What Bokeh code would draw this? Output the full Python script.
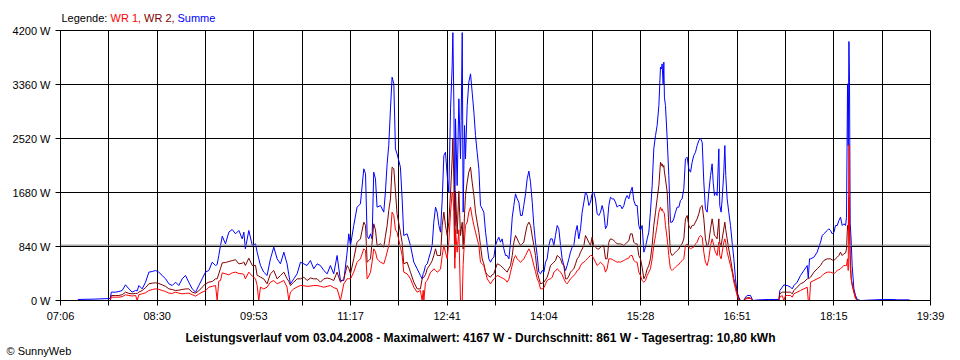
from bokeh.plotting import figure
from bokeh.layouts import column
from bokeh.models import Range1d, FixedTicker, CustomJSTickFormatter, Span, Title
from bokeh.core.properties import value
from bokeh.embed import file_html
from bokeh.resources import INLINE

# ---- data (minutes after midnight, watts) ----
TIME_MIN = [
    441.0, 455.0, 469.0, 470.0, 473.6, 476.5, 479.4, 482.3, 485.2, 488.0, 491.0, 492.4, 493.8, 496.7, 499.6,
    502.5, 505.4, 508.2, 511.0, 514.0, 517.0, 519.8, 522.7, 525.6, 528.4, 531.3, 534.2, 537.0, 540.0, 542.9,
    545.7, 548.6, 551.5, 554.4, 557.3, 560.2, 561.6, 563.0, 564.5, 566.0, 568.8, 571.7, 574.6, 577.5, 580.4,
    583.3, 584.7, 586.0, 589.0, 592.0, 594.8, 596.2, 597.6, 599.1, 601.9, 604.8, 607.7, 610.6, 613.5, 616.4,
    619.3, 622.1, 623.6, 625.0, 627.9, 630.8, 633.7, 636.6, 639.4, 642.3, 645.2, 648.1, 651.0, 653.9, 656.8,
    659.6, 662.5, 665.4, 668.3, 671.2, 674.1, 675.5, 677.0, 679.8, 682.7, 685.6, 688.5, 690.0, 691.4, 692.8,
    694.3, 695.7, 697.1, 698.6, 700.0, 702.9, 705.8, 707.2, 708.7, 710.1, 711.6, 713.0, 714.5, 715.9, 717.3,
    720.2, 721.7, 723.1, 726.0, 728.9, 731.8, 734.7, 737.5, 739.0, 739.9, 740.5, 741.9, 743.4, 746.3, 747.7,
    749.1, 750.6, 752.0, 753.5, 754.9, 756.4, 757.8, 759.2, 760.7, 762.1, 763.6, 765.0, 765.6, 766.5, 767.3,
    767.9, 769.3, 770.8, 772.2, 772.8, 773.7, 774.5, 775.7, 776.5, 778.0, 779.4, 780.9, 782.3, 783.8, 785.2,
    786.6, 788.1, 789.5, 791.0, 792.4, 793.9, 795.3, 796.7, 798.2, 799.6, 801.1, 802.5, 804.0, 805.4, 806.8,
    808.3, 809.7, 811.2, 812.6, 814.1, 815.5, 817.0, 818.4, 819.8, 821.3, 822.7, 824.2, 825.6, 827.0, 828.5,
    829.9, 831.4, 832.8, 834.3, 835.7, 837.1, 838.6, 840.0, 841.5, 842.9, 844.4, 845.8, 847.2, 848.7, 850.1,
    851.6, 853.0, 854.4, 855.9, 857.3, 858.8, 860.2, 861.7, 863.1, 864.5, 866.0, 867.4, 868.9, 870.3, 871.8,
    873.2, 874.6, 876.1, 877.5, 879.0, 880.4, 881.9, 883.3, 884.7, 886.1, 887.6, 889.0, 890.5, 891.9, 893.4,
    894.8, 896.2, 897.7, 899.1, 900.6, 902.0, 903.5, 904.9, 906.3, 907.8, 909.2, 910.7, 912.1, 913.6, 915.0,
    916.4, 917.9, 919.3, 920.8, 922.2, 923.7, 925.1, 926.5, 928.0, 929.4, 930.9, 932.3, 933.8, 935.2, 936.6,
    938.1, 939.5, 941.0, 942.4, 943.9, 945.3, 946.2, 946.7, 947.6, 948.2, 948.7, 949.6, 951.1, 952.5, 953.9,
    955.4, 956.8, 958.3, 959.7, 961.2, 962.6, 964.0, 965.5, 966.9, 968.4, 969.8, 971.3, 972.7, 974.1, 975.6,
    977.0, 978.5, 979.9, 981.4, 982.8, 984.2, 985.7, 987.1, 988.6, 990.0, 990.9, 992.0, 992.9, 994.3, 995.8,
    996.6, 997.8, 998.7, 1000.1, 1001.0, 1001.8, 1003.0, 1004.4, 1005.9, 1007.3, 1008.8, 1010.2, 1011.6, 1013.1, 1014.5,
    1017.4, 1018.9, 1020.3, 1023.2, 1025.2, 1030.0, 1039.1, 1047.8, 1048.6, 1050.7, 1052.1, 1053.5, 1055.0, 1057.9, 1059.3,
    1060.8, 1063.6, 1066.5, 1069.4, 1072.3, 1073.2, 1074.3, 1075.2, 1078.1, 1080.9, 1083.8, 1085.3, 1086.7, 1089.6, 1091.0,
    1092.5, 1093.9, 1095.4, 1096.8, 1098.3, 1099.7, 1101.1, 1102.6, 1104.0, 1105.5, 1106.3, 1107.2, 1107.8, 1108.4, 1108.9,
    1109.5, 1110.4, 1111.2, 1112.7, 1114.1, 1115.6, 1118.5, 1138.6, 1147.3, 1150.2, 1160.3, 1161.7,
]
WR1 = [
    0, 0, 0, 52, 52, 52, 60, 89, 78, 70, 78, 0, 90, 104, 120,
    155, 170, 181, 175, 156, 140, 115, 110, 130, 115, 104, 110, 115, 90, 68,
    100, 130, 150, 207, 220, 233, 0, 300, 311, 430, 415, 399, 430, 441, 420,
    415, 405, 337, 441, 380, 337, 233, 0, 207, 181, 207, 285, 311, 259, 285,
    311, 207, 0, 130, 181, 210, 233, 230, 220, 225, 233, 233, 220, 207, 220,
    233, 200, 181, 0, 259, 337, 340, 337, 441, 596, 648, 804, 780, 337, 380,
    441, 600, 804, 760, 648, 596, 570, 650, 752, 850, 1037, 1374, 1322, 1100, 1063,
    830, 700, 441, 415, 337, 207, 130, 156, 0, 160, 0, 285, 311, 441, 460,
    493, 470, 441, 460, 493, 700, 856, 752, 648, 907, 1374, 1685, 1650, 1374, 500,
    1100, 752, 1100, 0, 0, 0, 560, 959, 1167, 1218, 1374, 1452, 1296, 1167, 1063,
    959, 856, 596, 570, 544, 441, 337, 300, 259, 300, 337, 360, 389, 380, 363,
    350, 337, 320, 285, 330, 441, 550, 648, 700, 648, 620, 596, 620, 648, 700,
    752, 804, 752, 650, 544, 450, 337, 280, 181, 181, 200, 259, 311, 330, 337,
    360, 441, 460, 493, 470, 441, 400, 337, 285, 259, 300, 337, 360, 389, 420,
    467, 480, 544, 580, 596, 620, 648, 674, 700, 700, 648, 600, 544, 570, 596,
    570, 544, 441, 493, 648, 648, 640, 622, 610, 596, 600, 596, 610, 622, 640,
    648, 660, 700, 700, 622, 600, 596, 441, 389, 311, 285, 311, 389, 441, 493,
    648, 856, 1011, 1167, 1374, 1452, 1400, 1426, 1380, 1374, 1350, 1167, 959, 700, 493,
    467, 493, 520, 544, 560, 596, 620, 648, 856, 881, 830, 804, 820, 830, 880,
    907, 980, 1011, 985, 752, 596, 544, 648, 856, 959, 900, 800, 752, 700, 907,
    700, 648, 752, 907, 959, 900, 752, 650, 544, 441, 285, 181, 78, 0, 0,
    0, 20, 30, 30, 0, 0, 0, 0, 52, 78, 0, 78, 78, 78, 52,
    104, 130, 156, 181, 207, 0, 0, 285, 311, 337, 363, 389, 415, 441, 441,
    441, 430, 415, 441, 467, 480, 493, 520, 544, 544, 544, 648, 467, 2420, 1100,
    544, 337, 233, 130, 26, 0, 0, 0, 0, 0, 0, 0,
]
WR2 = [
    0, 0, 0, 78, 78, 78, 90, 130, 110, 104, 110, 110, 130, 156, 200,
    259, 270, 275, 265, 244, 220, 181, 170, 156, 160, 171, 180, 181, 130, 114,
    150, 207, 259, 285, 296, 337, 337, 415, 500, 586, 590, 607, 620, 635, 570,
    580, 600, 544, 658, 544, 544, 389, 380, 363, 337, 259, 415, 467, 337, 389,
    441, 337, 300, 233, 285, 337, 337, 363, 311, 350, 337, 337, 285, 337, 350,
    337, 311, 441, 285, 337, 544, 500, 415, 648, 907, 959, 1218, 1167, 596, 620,
    648, 900, 1193, 1100, 856, 881, 830, 1000, 1167, 1400, 1581, 2074, 2048, 1700, 1348,
    1063, 900, 570, 596, 441, 285, 181, 181, 337, 350, 363, 400, 493, 570, 620,
    700, 804, 700, 700, 700, 1167, 1374, 1167, 1011, 1218, 1685, 2204, 2517, 1841, 667,
    1700, 1037, 1700, 1011, 1100, 1218, 800, 1350, 1633, 1841, 1996, 2074, 1841, 1633, 1374,
    1218, 1063, 856, 648, 570, 441, 400, 380, 363, 400, 415, 493, 570, 560, 544,
    520, 493, 470, 441, 500, 544, 700, 907, 1011, 959, 900, 856, 880, 907, 1050,
    1167, 1218, 1167, 1000, 856, 700, 441, 350, 259, 270, 285, 320, 363, 450, 544,
    570, 596, 620, 700, 680, 648, 570, 544, 337, 337, 380, 441, 470, 493, 570,
    648, 680, 752, 800, 856, 1011, 959, 900, 856, 985, 856, 830, 804, 800, 830,
    850, 856, 648, 648, 907, 959, 950, 933, 910, 881, 881, 881, 870, 856, 880,
    907, 930, 1037, 1037, 907, 880, 881, 700, 648, 519, 337, 389, 493, 544, 648,
    856, 1167, 1374, 1581, 1789, 2152, 2100, 2126, 2074, 2100, 2000, 1893, 1685, 1167, 752,
    700, 726, 750, 778, 800, 856, 880, 959, 1270, 1322, 1167, 1115, 1167, 1167, 1220,
    1270, 1350, 1452, 1478, 1270, 959, 830, 907, 1115, 1270, 1167, 1011, 1000, 959, 1270,
    900, 850, 959, 1115, 1218, 1100, 959, 800, 648, 493, 337, 233, 130, 26, 0,
    0, 30, 45, 40, 0, 0, 0, 0, 104, 130, 130, 130, 130, 130, 104,
    156, 207, 259, 285, 337, 340, 350, 363, 441, 493, 544, 590, 622, 648, 648,
    648, 630, 622, 650, 674, 700, 752, 700, 726, 740, 804, 1167, 1100, 1609, 1270,
    700, 337, 259, 130, 52, 0, 0, 0, 0, 0, 0, 0,
]
SUMME = [
    16, 21, 31, 130, 130, 140, 156, 244, 181, 130, 156, 150, 233, 181, 285,
    441, 451, 467, 441, 389, 337, 259, 233, 285, 233, 337, 389, 285, 181, 130,
    233, 337, 441, 467, 596, 544, 560, 700, 856, 1000, 881, 1063, 1104, 1037, 1089,
    959, 1063, 804, 1089, 856, 881, 752, 650, 544, 441, 389, 648, 830, 648, 570,
    752, 570, 400, 259, 337, 415, 596, 570, 544, 622, 493, 570, 544, 467, 415,
    544, 415, 700, 311, 311, 752, 1037, 856, 1167, 1452, 1504, 2048, 1970, 1011, 959,
    1037, 959, 1996, 1893, 1452, 1478, 1374, 1685, 2126, 2411, 2981, 3474, 3370, 2359, 2281,
    2074, 1581, 1011, 1037, 856, 596, 493, 389, 337, 420, 441, 544, 570, 752, 856,
    1218, 1452, 1374, 1167, 1063, 1581, 2255, 2307, 1944, 1685, 2981, 3655, 4167, 3007, 1167,
    2826, 1789, 3137, 2204, 2800, 4167, 1374, 2722, 2204, 3033, 3396, 3526, 3241, 2930, 2567,
    2307, 2048, 1478, 1426, 1374, 1063, 856, 648, 596, 648, 674, 856, 933, 985, 907,
    959, 804, 700, 700, 648, 907, 1296, 1478, 1659, 1581, 1530, 1322, 1322, 1478, 1659,
    1893, 2012, 1841, 1530, 1167, 907, 700, 441, 415, 467, 441, 596, 648, 856, 959,
    959, 856, 1011, 1167, 1115, 856, 648, 544, 467, 544, 648, 752, 830, 856, 1063,
    1167, 959, 1115, 1374, 1530, 1685, 1633, 1478, 1530, 1659, 1685, 1581, 1348, 1322, 1374,
    1478, 1374, 1115, 1167, 1478, 1607, 1581, 1581, 1530, 1452, 1478, 1478, 1426, 1478, 1581,
    1633, 1581, 1685, 1763, 1556, 1478, 1478, 1167, 1089, 1167, 752, 830, 959, 1063, 1374,
    1789, 2359, 2567, 2722, 3033, 3630, 3604, 3681, 3370, 3707, 3163, 3033, 2515, 1944, 1218,
    1218, 1270, 1374, 1452, 1452, 1556, 1581, 1737, 2204, 2230, 2048, 1996, 2152, 2255, 2307,
    2411, 2489, 2525, 2460, 1841, 1426, 1374, 1685, 1944, 2126, 1841, 1633, 1685, 1633, 2359,
    1478, 1374, 1581, 1996, 2411, 1944, 1581, 1374, 1167, 907, 648, 337, 130, 52, 0,
    0, 52, 78, 78, 0, 10, 16, 16, 155, 207, 244, 233, 233, 207, 181,
    233, 285, 389, 467, 544, 350, 648, 648, 674, 752, 907, 1011, 1037, 1089, 1115,
    1089, 1037, 1060, 1167, 1167, 1244, 1296, 1167, 1193, 1167, 1296, 3370, 2411, 4029, 3400,
    1200, 907, 544, 181, 78, 16, 0, 16, 16, 10, 10, 0,
]

X_START, X_END = 426, 1179            # 07:06 .. 19:39
X_TICK_LABELS = ["07:06", "08:30", "09:53", "11:17", "12:41", "14:04", "15:28", "16:51", "18:15", "19:39"]
Y_TICKS = [0, 840, 1680, 2520, 3360, 4200]
Y_TICK_LABELS = ["0 W", "840 W", "1680 W", "2520 W", "3360 W", "4200 W"]
AVERAGE_W = 861
TITLE = "Leistungsverlauf vom 03.04.2008 - Maximalwert: 4167 W - Durchschnitt: 861 W - Tagesertrag: 10,80 kWh"
LEGEND_TEXTS = ["Legende:", "WR 1,", "WR 2,", "Summe"]
LEGEND_COLORS = ["#000000", "#FF0000", "#800000", "#0000FF"]
COPYRIGHT = "\u00a9 SunnyWeb"

FONT = "Liberation Sans"
W = 958
FRAME_L, FRAME_R = 60, 930   # strips share the chart's frame columns in the layout


def text_strip(**kw):
    f = figure(width=W, x_range=Range1d(FRAME_L, FRAME_R),
               x_axis_location=None, y_axis_location=None, min_border=0,
               outline_line_color=None, toolbar_location=None, output_backend="svg",
               background_fill_color="white", border_fill_color="white", **kw)
    f.xgrid.visible = False
    f.ygrid.visible = False
    return f


# ---- top strip: coloured legend ----
top = text_strip(height=24, y_range=Range1d(24, 0))
top.text(x=[61, 110, 143.5, 177], y=[17, 17, 17, 17], text=LEGEND_TEXTS, text_color=LEGEND_COLORS,
         text_font=value(FONT), text_font_size="11px", text_baseline="middle", text_align="left")

# ---- main chart ----
n = len(X_TICK_LABELS) - 1
span = X_END - X_START
major = [X_START + span * i / n for i in range(n + 1)]
minor = [X_START + span * (i + 0.5) / n for i in range(n)]

p = figure(frame_width=870, frame_height=270,
           min_border_left=60, min_border_right=28, min_border_top=6, min_border_bottom=28,
           x_range=Range1d(X_START, X_END), y_range=Range1d(0, 4200),
           output_backend="svg", toolbar_location=None,
           background_fill_color="white", border_fill_color="white",
           outline_line_color="black")

p.xaxis.ticker = FixedTicker(ticks=major, minor_ticks=minor)
p.xaxis.formatter = CustomJSTickFormatter(
    args=dict(labels=X_TICK_LABELS, start=X_START, step=span / n),
    code="return labels[Math.round((tick - start) / step)];")
p.yaxis.ticker = FixedTicker(ticks=Y_TICKS)
p.yaxis.major_label_overrides = {t: l for t, l in zip(Y_TICKS, Y_TICK_LABELS)}

for ax in (p.xaxis[0], p.yaxis[0]):
    ax.axis_line_color = "black"
    ax.major_tick_line_color = "black"
    ax.major_tick_in = 0
    ax.major_tick_out = 5
    ax.major_label_text_font = FONT
    ax.major_label_text_font_size = "11px"
    ax.major_label_text_color = "black"
p.xaxis.minor_tick_line_color = "black"
p.xaxis.minor_tick_in = 0
p.xaxis.minor_tick_out = 5
p.yaxis.minor_tick_line_color = None
p.xaxis.major_label_standoff = 4
p.yaxis.major_label_standoff = 5

p.xgrid.grid_line_color = "black"
p.xgrid.minor_grid_line_color = "black"
p.ygrid.grid_line_color = "black"
p.ygrid.ticker = FixedTicker(ticks=Y_TICKS)

p.line(TIME_MIN, SUMME, line_color="#0000FF", line_width=1)
p.line(TIME_MIN, WR2, line_color="#800000", line_width=1)
p.line(TIME_MIN, WR1, line_color="#FF0000", line_width=1)

p.add_layout(Span(location=AVERAGE_W, dimension="width", line_color="#808080", line_width=1))

# ---- bottom strip: summary title (inside strip frame) and copyright (title panel) ----
bottom = text_strip(frame_height=16, y_range=Range1d(16, 0))
bottom.text(x=[480], y=[9], text=[TITLE], text_color="black",
            text_font=value(FONT), text_font_size="12px", text_font_style="bold",
            text_baseline="middle", text_align="center")
bottom.add_layout(Title(text=COPYRIGHT, align="left", offset=-54, standoff=0,
                        vertical_align="top", text_font=FONT, text_font_size="11px",
                        text_font_style="normal", text_color="black"), "below")

layout = column(top, p, bottom, spacing=0)
open("out.html", "w").write(file_html(layout, INLINE))
